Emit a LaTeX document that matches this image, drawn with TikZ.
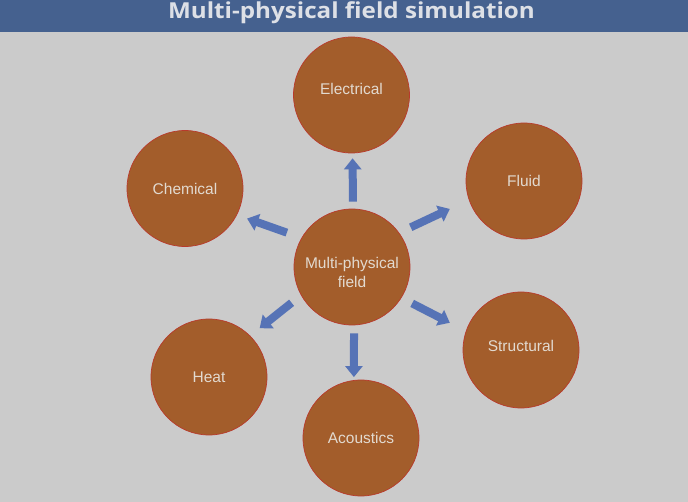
\documentclass[tikz,border=0pt]{standalone}
\usepackage{fontspec}
\setmainfont{Liberation Sans}
\newfontfamily\titlefont[FakeStretch=1.1]{Open Sans}
\usetikzlibrary{arrows.meta}
\definecolor{slideGray}{HTML}{CBCBCB}
\definecolor{barBlue}{HTML}{45618F}
\definecolor{fieldBrown}{HTML}{A35D2B}
\definecolor{rimRed}{HTML}{B83A2C}
\definecolor{flowBlue}{HTML}{5673B6}
\definecolor{labelGray}{HTML}{E2DAD0}
\definecolor{titleGray}{HTML}{DDE0E6}
\tikzset{
  title bar/.style={fill=barBlue, draw=none},
  title text/.style={text=titleGray, anchor=base, font=\titlefont\bfseries\fontsize{22}{26}\selectfont},
  field circle/.style={circle, minimum size=116pt, inner sep=0pt, fill=fieldBrown, draw=rimRed, line width=0.7pt,
    text=labelGray, font=\fontsize{15.5}{19}\selectfont, align=center},
  flow arrow/.style={line width=8pt, flowBlue, -{Triangle[width=17pt,length=11pt]}},
}
% #1 start anchor, #2 end anchor, #3 gap at start, #4 gap at end
\newcommand{\drawFlowArrow}[4]{
  \draw[flow arrow, shorten <=#3, shorten >=#4] (#1) -- (#2);
}

\begin{document}
\begin{tikzpicture}[x=1pt, y=-1pt]
  \useasboundingbox (0,0) rectangle (688,502);
  \fill[slideGray] (0,0) rectangle (688,502);
  \fill[title bar] (0,0) rectangle (688,32);
  \node[title text] (title) at (351.5,19) {Multi-physical field simulation};

  \node[field circle, text height=42pt] (hub) at (352,267) {Multi-physical\\field};
  \node[field circle, text depth=13pt] (elec) at (351.5,95) {Electrical};
  \node[field circle] (fluid) at (524,181)  {Fluid};
  \node[field circle] (chem) at (185,188.5) {Chemical};
  \node[field circle, text depth=8pt] (struc) at (521,350) {Structural};
  \node[field circle] (heat) at (209,377)   {Heat};
  \node[field circle] (acou) at (361,438)   {Acoustics};

  \drawFlowArrow{hub.89}{elec.271.5}{7pt}{5pt}
  \drawFlowArrow{hub.36.9}{fluid.199.4}{12.7pt}{21pt}
  \drawFlowArrow{hub.150.5}{chem.333.7}{15.5pt}{10.7pt}
  \drawFlowArrow{hub.328.4}{struc.161.3}{12pt}{18pt}
  \drawFlowArrow{hub.209.7}{heat.45.9}{12pt}{12pt}
  \drawFlowArrow{hub.272}{acou.97}{8pt}{3pt}
\end{tikzpicture}
\end{document}
